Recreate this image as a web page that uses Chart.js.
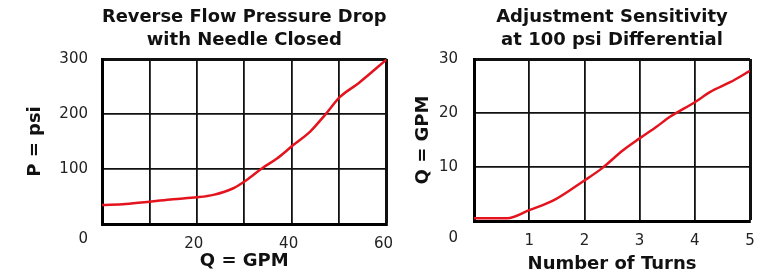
<!DOCTYPE html>
<html>
<head>
<meta charset="utf-8">
<script src="https://cdn.jsdelivr.net/npm/chart.js@4/dist/chart.umd.min.js"></script>
<style>
  html, body { margin: 0; padding: 0; background: #fff; }
  #wrap { position: relative; width: 765px; height: 279px; overflow: hidden; }
  #c1 { position: absolute; left: 0; top: 0; }
  #c2 { position: absolute; left: 400px; top: 0; }
</style>
</head>
<body>
<div id="wrap">
  <canvas id="c1" width="400" height="279"></canvas>
  <canvas id="c2" width="365" height="279"></canvas>
</div>
<script>
// ---- Chart 1: Reverse Flow Pressure Drop ----
const flowGpm     = [0, 5, 10, 15, 20, 23.5, 27.7, 30.5, 33.7, 36.9, 40.4, 43.9, 47, 50.2, 54.1, 60];
const pressurePsi = [34.5, 36.5, 40.5, 45, 48.5, 53, 65, 80, 101, 119, 144, 168, 198, 231, 256, 299];
const leftXTickLabels = [20, 40, 60];
const leftYTickLabels = [100, 200, 300];
const leftTitle = ['Reverse Flow Pressure Drop', 'with Needle Closed'];
const leftXTitle = 'Q = GPM';
const leftYTitle = 'P = psi';

// ---- Chart 2: Adjustment Sensitivity ----
const turns     = [0, 0.6, 1.0, 1.44, 2.0, 2.31, 2.7, 3.0, 3.3, 3.55, 4.0, 4.28, 4.64, 5.0];
const flowAdj   = [0.5, 0.5, 2.0, 3.8, 7.5, 9.7, 13.1, 15.3, 17.4, 19.3, 22.0, 23.9, 25.7, 27.8];
const rightXTickLabels = [1, 2, 3, 4, 5];
const rightYTickLabels = [10, 20, 30];
const rightTitle = ['Adjustment Sensitivity', 'at 100 psi Differential'];
const rightXTitle = 'Number of Turns';
const rightYTitle = 'Q = GPM';

const originLabel = '0';

const RED = '#e3141e';
const TICK_FONT = { family: 'DejaVu Sans', size: 15 };
const BOLD = (s) => ({ family: 'DejaVu Sans', size: s, weight: 'bold' });

const originPlugin = {
  id: 'origin',
  afterDraw(chart, args, opts) {
    const ctx = chart.ctx;
    const ys = chart.scales.y;
    ctx.save();
    ctx.font = '15px "DejaVu Sans"';
    ctx.fillStyle = '#222';
    ctx.textAlign = 'right';
    ctx.textBaseline = 'middle';
    ctx.fillText(originLabel, chart.chartArea.left - ys.options.ticks.padding, ys.getPixelForValue(ys.min) + opts.dy);
    ctx.restore();
  }
};

function noPad(s) {
  s.paddingLeft = 0; s.paddingRight = 0; s.paddingTop = 0; s.paddingBottom = 0;
}

function makeChart(canvasId, xs, ys, cfg) {
  const data = xs.map((x, i) => ({ x: x, y: ys[i] }));
  return new Chart(document.getElementById(canvasId), {
    type: 'line',
    data: {
      datasets: [{
        data: data,
        borderColor: RED,
        borderWidth: 2.5,
        pointRadius: 0,
        cubicInterpolationMode: 'monotone',
        fill: false
      }]
    },
    options: {
      responsive: false,
      animation: false,
      devicePixelRatio: 1,
      layout: { padding: { left: 0, right: cfg.padRight, top: 0, bottom: 0 } },
      plugins: {
        legend: { display: false },
        tooltip: { enabled: false },
        title: {
          display: true,
          text: cfg.title,
          fullSize: false,
          color: '#111',
          font: Object.assign(BOLD(18), { lineHeight: '23px' }),
          padding: { top: 6, bottom: 7 }
        },
        origin: { dy: cfg.originDy }
      },
      scales: {
        x: {
          type: 'linear',
          min: cfg.xMin, max: cfg.xMax,
          afterFit: (s) => { s.height = cfg.xAxisHeight; noPad(s); },
          ticks: {
            stepSize: cfg.xStep,
            autoSkip: false,
            maxRotation: 0,
            padding: 11,
            labelOffset: cfg.xLabelOffset,
            color: '#222',
            font: TICK_FONT,
            callback: (v) => cfg.xTicks.includes(v) ? String(v) : ''
          },
          grid: {
            drawTicks: false,
            color: '#111',
            lineWidth: (c) => (c.tick && c.tick.value === cfg.xMax) ? 3 : 1.8
          },
          border: { display: true, color: '#000', width: 3 },
          title: {
            display: true,
            text: cfg.xTitle,
            color: '#111',
            font: BOLD(18),
            padding: { top: 0, bottom: cfg.xTitlePadBottom }
          }
        },
        y: {
          type: 'linear',
          min: cfg.yMin, max: cfg.yMax,
          afterFit: (s) => { s.width = cfg.yAxisWidth; noPad(s); },
          ticks: {
            stepSize: cfg.yStep,
            autoSkip: false,
            padding: cfg.yTickPad,
            color: '#222',
            font: TICK_FONT,
            callback: (v) => cfg.yTicks.includes(v) ? String(v) : ''
          },
          grid: {
            drawTicks: false,
            color: '#111',
            lineWidth: (c) => (c.tick && c.tick.value === cfg.yMax) ? 3 : 1.8
          },
          border: { display: true, color: '#000', width: 3 },
          title: {
            display: true,
            text: cfg.yTitle,
            color: '#111',
            font: BOLD(18),
            padding: { top: cfg.yTitlePadTop, bottom: 0 }
          }
        }
      }
    },
    plugins: [originPlugin]
  });
}

makeChart('c1', flowGpm, pressurePsi, {
  title: leftTitle, xTitle: leftXTitle, yTitle: leftYTitle,
  xMin: 0, xMax: 60, xStep: 10, xTicks: leftXTickLabels,
  yMin: 0, yMax: 300, yStep: 100, yTicks: leftYTickLabels,
  padRight: 13.5, xAxisHeight: 55, yAxisWidth: 102,
  yTickPad: 14, yTitlePadTop: 25, xTitlePadBottom: 7,
  xLabelOffset: -3, originDy: 15
});

makeChart('c2', turns, flowAdj, {
  title: rightTitle, xTitle: rightXTitle, yTitle: rightYTitle,
  xMin: 0, xMax: 5, xStep: 1, xTicks: rightXTickLabels,
  yMin: 0, yMax: 30, yStep: 10, yTicks: rightYTickLabels,
  padRight: 15, xAxisHeight: 58, yAxisWidth: 74,
  yTickPad: 16, yTitlePadTop: 12.7, xTitlePadBottom: 4,
  xLabelOffset: 0, originDy: 17
});
</script>
</body>
</html>
